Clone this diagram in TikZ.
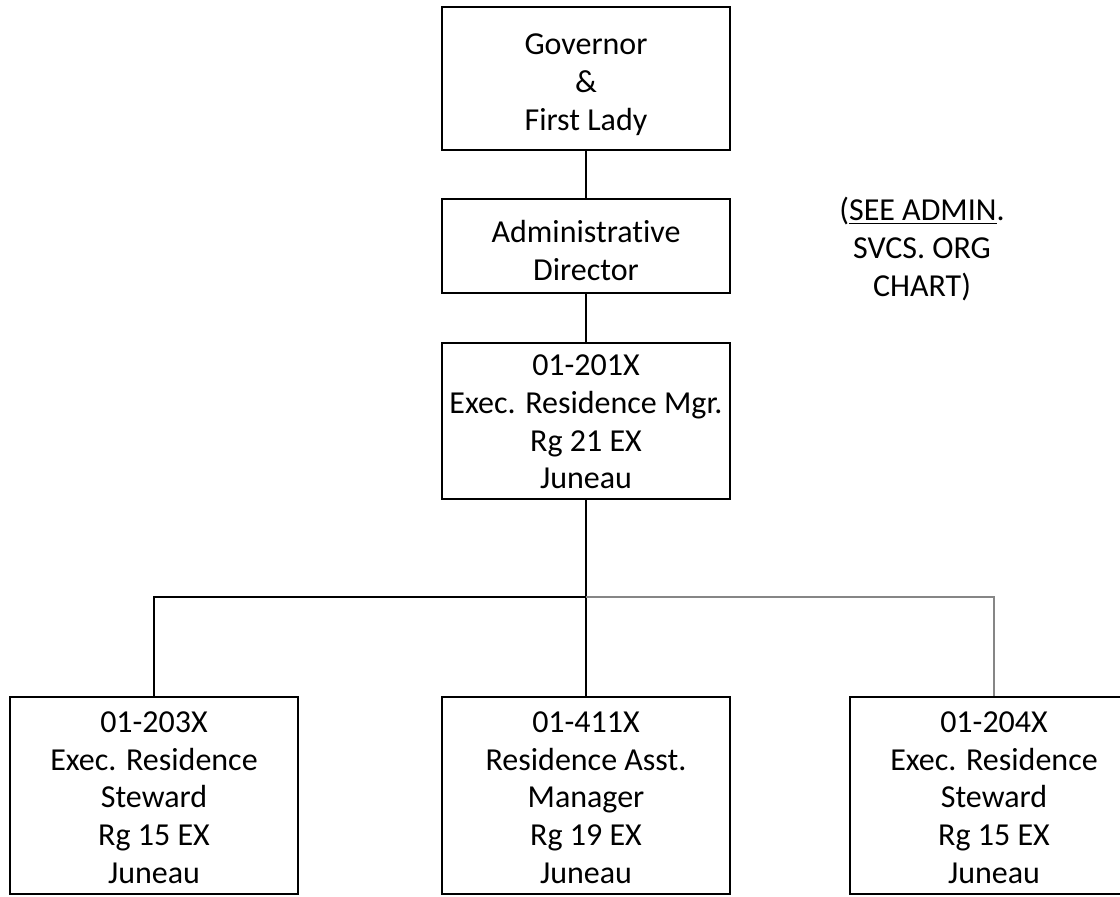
\documentclass[tikz,border=0pt]{standalone}
\usepackage{fontspec}
\setmainfont[Ligatures={NoCommon}]{Carlito}
\begin{document}
\begin{tikzpicture}[x=0.75pt,y=-0.75pt,
  box/.style={draw=black,line width=1.1pt,rectangle,inner sep=0pt,minimum width=216pt},
  txt/.style={align=center,inner sep=0pt,font=\fontsize{24}{28.3}\selectfont},
  conn/.style={draw=black,line width=1.1pt},
  connGray/.style={draw=gray!95,line width=1.1pt}]
\useasboundingbox (0,0) rectangle (1120,896);
\clip (0,0) rectangle (1120,896);
\fill[white] (0,0) rectangle (1120,896);
\node[box,minimum height=107.25pt] (gov) at (586,78.5) {};
\node[box,minimum height=70.5pt] (admin) at (586,246) {};
\node[box,minimum height=117pt] (mgr) at (586,421) {};
\node[box,minimum height=147.75pt] (left) at (154,795.5) {};
\node[box,minimum height=147.75pt] (mid) at (586,795.5) {};
\node[box,minimum height=147.75pt] (right) at (994,795.5) {};
\node[txt] (govt) at ([yshift=-4.5pt]gov.center) {Governor\\\&\\First Lady};
\node[txt] (admint) at ([yshift=-3.5pt]admin.center) {Administrative\\Director};
\node[txt] (mgrt) at ([yshift=-0.75pt]mgr.center) {01-201X\\Exec. Residence Mgr.\\Rg 21 EX\\Juneau};
\node[txt] (leftt) at ([yshift=-1.5pt]left.center) {01-203X\\Exec. Residence\\Steward\\Rg 15 EX\\Juneau};
\node[txt] (midt) at ([yshift=-1.5pt]mid.center) {01-411X\\Residence Asst.\\Manager\\Rg 19 EX\\Juneau};
\node[txt] (rightt) at ([yshift=-1.5pt]right.center) {01-204X\\Exec. Residence\\Steward\\Rg 15 EX\\Juneau};
\node[txt] (note) at (922,249) {(\underline{SEE ADMIN}.\\SVCS. ORG\\CHART)};
\coordinate (bus) at (586,597);
\draw[conn] (gov.south) -- (admin.north);
\draw[conn] (admin.south) -- (mgr.north);
\draw[conn] (mgr.south) -- (mid.north);
\draw[conn] (left.north) |- (bus);
\draw[connGray] (bus) -| (right.north);
\end{tikzpicture}
\end{document}
